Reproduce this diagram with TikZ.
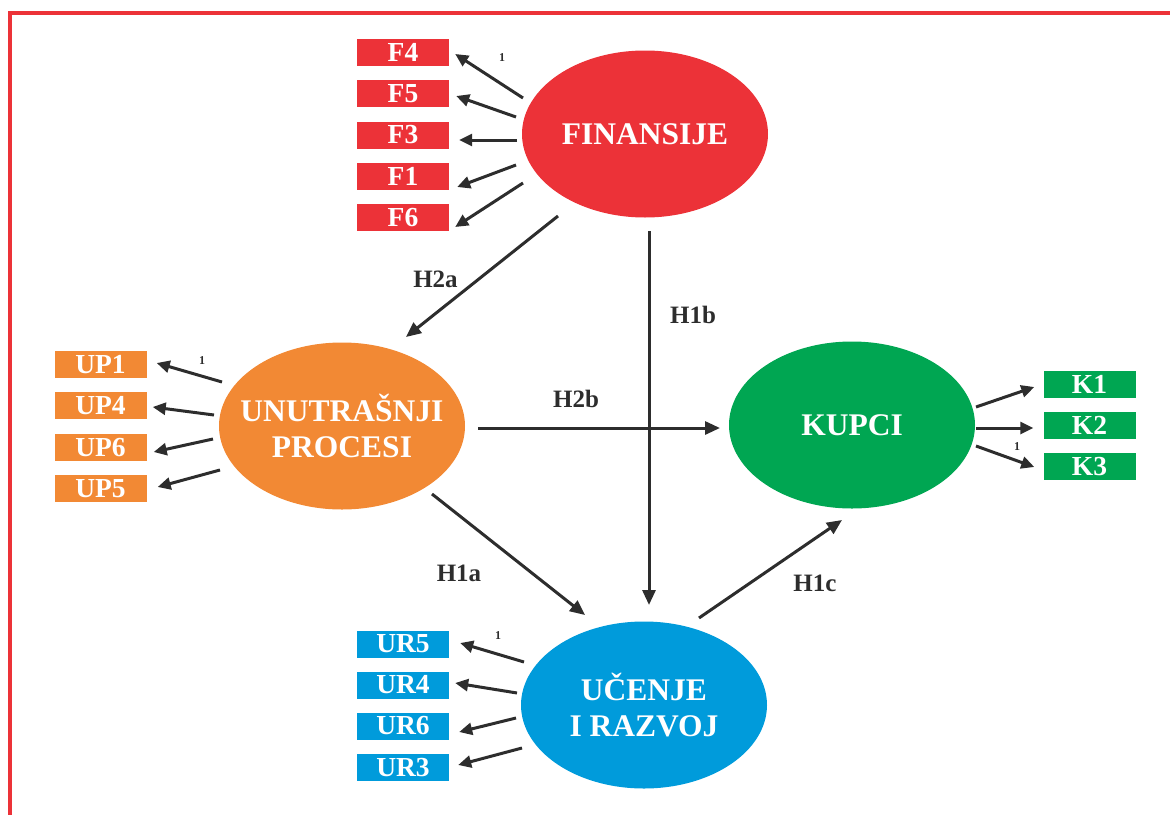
\documentclass[tikz,border=0pt]{standalone}
\usepackage{fontspec}
\setmainfont{Liberation Serif}
\usetikzlibrary{arrows.meta,shapes.geometric}
\definecolor{cred}{RGB}{236,50,56}
\definecolor{corange}{RGB}{242,137,52}
\definecolor{cgreen}{RGB}{0,166,82}
\definecolor{cblue}{RGB}{0,155,219}
\definecolor{cdark}{RGB}{45,45,45}
\begin{document}
\begin{tikzpicture}[x=1pt,y=-1pt,
  latent/.style={ellipse, minimum width=246pt, minimum height=167pt, inner sep=0pt},
  lattext/.style={text=white, font=\fontsize{31.5}{36}\selectfont\bfseries, align=center, inner sep=0pt},
  ind/.style={rectangle, minimum width=92pt, minimum height=27pt, inner sep=0pt, text=white, font=\fontsize{27.5}{30}\selectfont\bfseries},
  arr/.style={draw=cdark, line width=3pt, -{Triangle[length=13pt,width=12pt]}},
  bigarr/.style={draw=cdark, line width=3pt, -{Triangle[length=15pt,width=13pt]}},
  hyp/.style={text=cdark, font=\fontsize{25}{28}\selectfont\bfseries, inner sep=0pt},
  one/.style={text=cdark, font=\fontsize{12}{14}\selectfont\bfseries, inner sep=0pt}]
\useasboundingbox (0,0) rectangle (1170,814);
% frame
\draw[cred, line width=4pt] (1172,13) -- (10,13) -- (10,816);

% latent variables
\node[latent, fill=cred] (fin) at (645,134) {};
\node[lattext] (fint) at (fin) {FINANSIJE};
\node[latent, fill=corange] (unu) at (342,426) {};
\node[lattext] (unut) at (unu) {UNUTRAŠNJI\\PROCESI};
\node[latent, fill=cgreen] (kup) at (852,425) {};
\node[lattext] (kupt) at (kup) {KUPCI};
\node[latent, fill=cblue] (uce) at (644,705) {};
\node[lattext] (ucet) at (uce) {UČENJE\\I RAZVOJ};

% indicators
\node[ind, fill=cred] (f4) at (403,52.5) {F4};
\node[ind, fill=cred] (f5) at (403,93.5) {F5};
\node[ind, fill=cred] (f3) at (403,135) {F3};
\node[ind, fill=cred] (f1) at (403,176) {F1};
\node[ind, fill=cred] (f6) at (403,217.5) {F6};

\node[ind, fill=corange] (up1) at (100.5,364.5) {UP1};
\node[ind, fill=corange] (up4) at (100.5,405.5) {UP4};
\node[ind, fill=corange] (up6) at (100.5,447.5) {UP6};
\node[ind, fill=corange] (up5) at (100.5,488.5) {UP5};

\node[ind, fill=cgreen] (k1) at (1089.5,384.5) {K1};
\node[ind, fill=cgreen] (k2) at (1089.5,425.5) {K2};
\node[ind, fill=cgreen] (k3) at (1089.5,466.5) {K3};

\node[ind, fill=cblue] (ur5) at (403,644) {UR5};
\node[ind, fill=cblue] (ur4) at (403,685) {UR4};
\node[ind, fill=cblue] (ur6) at (403,726) {UR6};
\node[ind, fill=cblue] (ur3) at (403,767.5) {UR3};

% loadings
\draw[arr] ([shift={(-122,-36)}]fin.center) -- ([shift={(6,1.5)}]f4.east);
\draw[arr] ([shift={(-129,-17)}]fin.center) -- ([shift={(7,2.5)}]f5.east);
\draw[arr] ([shift={(-128,6)}]fin.center) -- ([shift={(10,5)}]f3.east);
\draw[arr] ([shift={(-129,31)}]fin.center) -- ([shift={(8,11)}]f1.east);
\draw[arr] ([shift={(-122,49)}]fin.center) -- ([shift={(6,9.5)}]f6.east);

\draw[arr] ([shift={(-120,-44)}]unu.center) -- ([shift={(10,-1.5)}]up1.east);
\draw[arr] ([shift={(-128,-11)}]unu.center) -- ([shift={(6,1.5)}]up4.east);
\draw[arr] ([shift={(-129,13)}]unu.center) -- ([shift={(7,4.5)}]up6.east);
\draw[arr] ([shift={(-122,44)}]unu.center) -- ([shift={(11,-1.5)}]up5.east);

\draw[arr] ([shift={(124,-18)}]kup.center) -- ([shift={(-9,2.5)}]k1.west);
\draw[arr] ([shift={(124,3)}]kup.center) -- ([shift={(-10,2.5)}]k2.west);
\draw[arr] ([shift={(124,21)}]kup.center) -- ([shift={(-9,0.5)}]k3.west);

\draw[arr] ([shift={(-120,-43)}]uce.center) -- ([shift={(11,-1)}]ur5.east);
\draw[arr] ([shift={(-127,-12)}]uce.center) -- ([shift={(6,-2)}]ur4.east);
\draw[arr] ([shift={(-128,13)}]uce.center) -- ([shift={(10,6)}]ur6.east);
\draw[arr] ([shift={(-122,43)}]uce.center) -- ([shift={(9,-2.5)}]ur3.east);

% structural paths
\draw[bigarr] ([shift={(-87,82)}]fin.center) -- ([shift={(64,-89)}]unu.center);
\draw[bigarr] ([shift={(4,97)}]fin.center) -- ([shift={(5,-100)}]uce.center);
\draw[bigarr] ([shift={(136,2)}]unu.center) -- ([shift={(-132,3)}]kup.center);
\draw[bigarr] ([shift={(90,68)}]unu.center) -- ([shift={(-59,-90)}]uce.center);
\draw[bigarr] ([shift={(55,-87)}]uce.center) -- ([shift={(-10,95)}]kup.center);

% labels
\node[hyp] (h2a) at (435.5,279) {H2a};
\node[hyp] (h1b) at (693,315) {H1b};
\node[hyp] (h2b) at (576,399) {H2b};
\node[hyp] (h1a) at (459,573) {H1a};
\node[hyp] (h1c) at (815,583) {H1c};

\node[one] (o1) at (502,58) {1};
\node[one] (o2) at (202,361) {1};
\node[one] (o3) at (1017,447) {1};
\node[one] (o4) at (498,636) {1};
\end{tikzpicture}
\end{document}
